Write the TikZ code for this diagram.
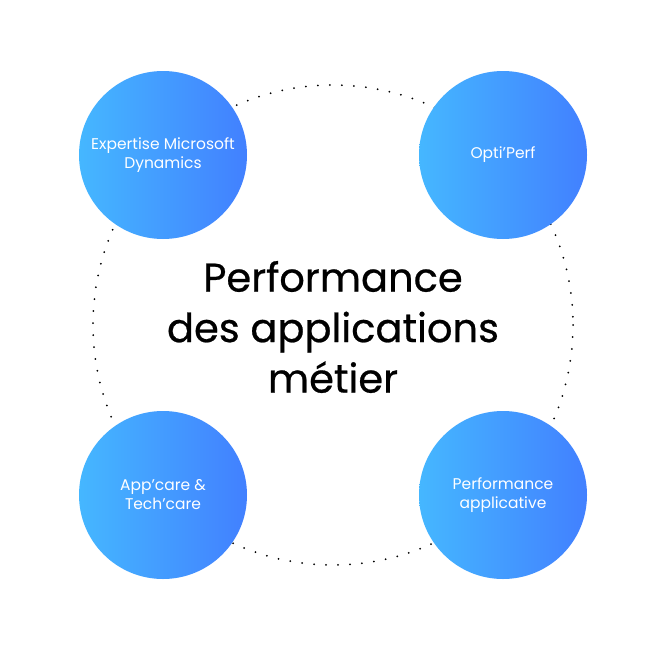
\documentclass[tikz,border=0pt]{standalone}
\usepackage{fontspec}
\setmainfont[Ligatures=NoCommon]{Poppins}
\newfontfamily\titlefont[Ligatures=NoCommon,FakeBold=0.6]{Poppins}
\definecolor{gradL}{HTML}{45B7FF}
\definecolor{gradR}{HTML}{4280FF}
\tikzset{
  bubble/.style={circle, minimum size=168pt, inner sep=0pt, left color=gradL, right color=gradR, draw=none,
    text=white, align=center, font=\fontsize{15.5}{19}\selectfont},
  ring/.style={draw=black, line width=2pt, line cap=round, dash pattern=on 0pt off 12pt},
  title/.style={align=center, font=\titlefont\fontsize{40}{50.5}\selectfont, text=black}
}
\begin{document}
\begin{tikzpicture}[x=1pt,y=-1pt]
\useasboundingbox (0,0) rectangle (663,661);
\fill[white] (0,0) rectangle (663,661);
\coordinate (ctr) at (333,325);
\draw[ring] (ctr) circle[radius=240];
\node[bubble] (a) at (163,155) {Expertise Microsoft\\Dynamics};
\node[bubble] (b) at (503,155) {Opti'Perf};
\node[bubble] (c) at (163,495) {App'care \&\\Tech'care};
\node[bubble] (d) at (503,495) {Performance\\applicative};
\node[title] (t) at (333,327) {Performance\\des applications\\métier};
\end{tikzpicture}
\end{document}
